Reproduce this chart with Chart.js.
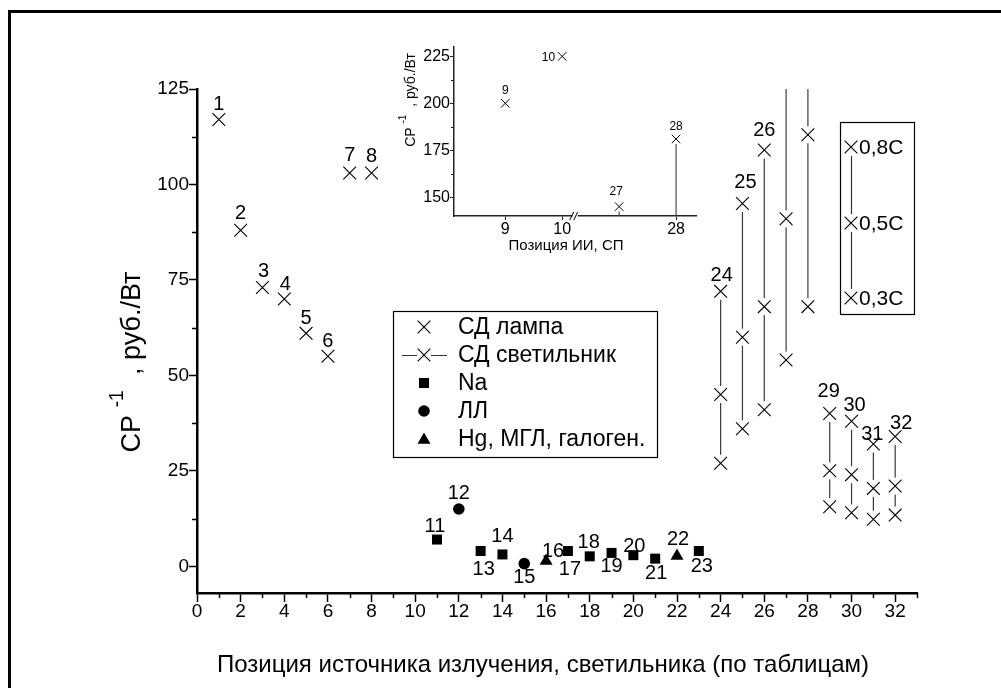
<!DOCTYPE html>
<html><head><meta charset="utf-8">
<script src="https://cdn.jsdelivr.net/npm/chart.js@4.4.0/dist/chart.umd.min.js"></script>
<style>
html,body{margin:0;padding:0;background:#fff;}
#wrap{position:relative;width:1001px;height:688px;overflow:hidden;background:#fff;}
#main{position:absolute;left:0;top:0;}
#inset{position:absolute;left:380px;top:20px;}
</style></head><body>
<div id="wrap"><canvas id="main" width="1001" height="688"></canvas><canvas id="inset" width="330" height="240"></canvas></div>
<script>
const FONT = "'Liberation Sans', Arial, sans-serif";

// ---------------- data ----------------
const lampPositions = [1, 2, 3, 4, 5, 6, 7, 8, 9, 10];
const lampValues    = [117, 88, 73, 70, 61, 55, 103, 103, 200, 225];

const naPositions = [11, 13, 14, 17, 18, 19, 20, 21, 23];
const naValues    = [7, 4, 3.1, 4, 2.6, 3.5, 2.9, 2, 4];

const llPositions = [12, 15];
const llValues    = [15, 0.7];

const hgPositions = [16, 22];
const hgValues    = [1.4, 2.7];

const fixturePositions = [24, 25, 26, 27, 28, 29, 30, 31, 32];
const fixture03C = [27, 36, 41, 54, 68, 15.6, 14, 12.3, 13.4];
const fixture05C = [45, 60, 68, 91, 113, 25, 24, 20.4, 21];
const fixture08C = [72, 95, 109, 145, 181, 40, 38, 32, 34];

const xTicks = [0, 2, 4, 6, 8, 10, 12, 14, 16, 18, 20, 22, 24, 26, 28, 30, 32];
const yTicks = [0, 25, 50, 75, 100, 125];

const insetCategories = [9, 10, 27, 28];
const insetTickLabels = [9, 10, 28];
const insetYTicks = [150, 175, 200, 225];

const legendLabels = ['СД лампа', 'СД светильник', 'Na', 'ЛЛ', 'Hg, МГЛ, галоген.'];
const fractionLabels = ['0,8C', '0,5C', '0,3C'];
const xTitle = 'Позиция источника излучения, светильника (по таблицам)';
const insetXTitle = 'Позиция ИИ, СП';
const yTitleParts = ['CP', '-1', ' , руб./Вт'];

// label placement (text centre offset from the mark, px)
const labelOffset = {
  1:[0,-15], 2:[0,-17], 3:[1,-16], 4:[1,-15], 5:[0,-15], 6:[0,-15], 7:[0,-18], 8:[0,-17],
  11:[-2,-13], 12:[0,-16], 13:[3,18], 14:[0,-18], 15:[0,14], 16:[7,-9], 17:[2,18],
  18:[-1,-14], 19:[0,14], 20:[1,-9], 21:[1,15], 22:[1,-16], 23:[3,15],
  24:[1,-16], 25:[3,-21], 26:[0,-20], 29:[-1,-22], 30:[3,-16], 31:[-1,-10], 32:[6,-13]
};
const insetLabelOffset = {9:[0,-13,'center'], 10:[-7,1,'right'], 27:[-3,-15,'center'], 28:[0,-12,'center']};

// ---------------- helpers ----------------
const pts = (xs, ys) => xs.map((x, i) => ({x, y: ys[i]}));
const fixtureAll = [];
fixturePositions.forEach((p, i) => {
  fixtureAll.push({x:p, y:fixture03C[i]}, {x:p, y:fixture05C[i]}, {x:p, y:fixture08C[i]});
});

function drawShape(ctx, style, x, y, r) {
  ctx.beginPath();
  if (style === 'cross') {
    const d = r * Math.SQRT1_2;
    ctx.moveTo(x - d, y - d); ctx.lineTo(x + d, y + d);
    ctx.moveTo(x - d, y + d); ctx.lineTo(x + d, y - d);
    ctx.stroke();
  } else if (style === 'rect') {
    const s = r * Math.SQRT1_2;
    ctx.fillRect(x - s, y - s, 2 * s, 2 * s);
  } else if (style === 'circle') {
    ctx.arc(x, y, r, 0, Math.PI * 2); ctx.fill();
  } else if (style === 'triangle') {
    ctx.moveTo(x, y - r);
    ctx.lineTo(x + r * Math.sin(Math.PI / 3), y + r / 2);
    ctx.lineTo(x - r * Math.sin(Math.PI / 3), y + r / 2);
    ctx.closePath(); ctx.fill();
  }
}

function drawSupTitle(ctx, cx, cy, size, rotate, gap) {
  const parts = [
    {t: yTitleParts[0], s: size, dy: 0},
    {t: gap, s: size, dy: 0},
    {t: yTitleParts[1], s: size * 0.72, dy: -size * 0.62},
    {t: gap + yTitleParts[2], s: size, dy: 0}
  ];
  ctx.save();
  ctx.translate(cx, cy);
  if (rotate) ctx.rotate(-Math.PI / 2);
  let total = 0;
  parts.forEach(p => { ctx.font = p.s + 'px ' + FONT; p.w = ctx.measureText(p.t).width; total += p.w; });
  let x = -total / 2;
  ctx.fillStyle = '#000';
  ctx.textBaseline = 'alphabetic';
  ctx.textAlign = 'left';
  const base = size * 0.36;
  parts.forEach(p => { ctx.font = p.s + 'px ' + FONT; ctx.fillText(p.t, x, base + p.dy); x += p.w; });
  ctx.restore();
}

// ---------------- main chart ----------------
const mainDecor = {
  id: 'mainDecor',
  beforeDraw(chart) {
    const ctx = chart.ctx;
    ctx.save(); ctx.fillStyle = '#fff'; ctx.fillRect(0, 0, chart.width, chart.height); ctx.restore();
  },
  afterDatasetsDraw(chart) {
    const ctx = chart.ctx, xs = chart.scales.x, ys = chart.scales.y;
    const inArea = (p) => p.y >= ys.min && p.y <= ys.max;
    ctx.save();
    ctx.fillStyle = '#000';
    ctx.font = '20px ' + FONT;
    ctx.textAlign = 'center';
    ctx.textBaseline = 'middle';
    const put = (p, num) => {
      const off = labelOffset[num];
      if (!off || !inArea(p)) return;
      ctx.fillText(String(num), xs.getPixelForValue(p.x) + off[0], ys.getPixelForValue(p.y) + off[1]);
    };
    pts(lampPositions, lampValues).forEach(p => put(p, p.x));
    pts(naPositions, naValues).forEach(p => put(p, p.x));
    pts(llPositions, llValues).forEach(p => put(p, p.x));
    pts(hgPositions, hgValues).forEach(p => put(p, p.x));
    pts(fixturePositions, fixture08C).forEach(p => put(p, p.x));
    ctx.restore();
  },
  afterDraw(chart) {
    const ctx = chart.ctx, xs = chart.scales.x, ys = chart.scales.y, a = chart.chartArea;
    ctx.save();
    // outer frame
    ctx.strokeStyle = '#000'; ctx.lineWidth = 3;
    ctx.strokeRect(9.5, 11.5, 1200, 900);
    // minor ticks
    ctx.lineWidth = 1.5;
    ctx.beginPath();
    for (let v = 1; v <= 33; v += 2) {
      const px = Math.round(xs.getPixelForValue(v)) + 0.5;
      ctx.moveTo(px, a.bottom); ctx.lineTo(px, a.bottom + 5);
    }
    for (let v = 12.5; v < 125; v += 25) {
      const py = Math.round(ys.getPixelForValue(v)) + 0.5;
      ctx.moveTo(a.left, py); ctx.lineTo(a.left - 5, py);
    }
    ctx.stroke();

    // legend
    ctx.lineWidth = 1.2;
    ctx.strokeStyle = '#000';
    ctx.strokeRect(393.5, 311.5, 264, 146);
    const rows = [327, 355, 383, 411, 439];
    const sx = 424, tx = 458;
    ctx.fillStyle = '#000';
    ctx.lineWidth = 1.1;
    drawShape(ctx, 'cross', sx, rows[0], 9);
    ctx.strokeStyle = '#333';
    ctx.beginPath(); ctx.moveTo(402, rows[1] + 0.5); ctx.lineTo(417, rows[1] + 0.5);
    ctx.moveTo(431, rows[1] + 0.5); ctx.lineTo(447, rows[1] + 0.5); ctx.stroke();
    ctx.strokeStyle = '#000';
    drawShape(ctx, 'cross', sx, rows[1], 9);
    drawShape(ctx, 'rect', sx, rows[2], 7.07);
    drawShape(ctx, 'circle', sx, rows[3], 5.8);
    drawShape(ctx, 'triangle', sx, rows[4] + 1, 7.5);
    ctx.font = '23px ' + FONT;
    ctx.textAlign = 'left';
    ctx.textBaseline = 'middle';
    legendLabels.forEach((t, i) => ctx.fillText(t, tx, rows[i] + 1));

    // fraction box
    ctx.lineWidth = 1.2;
    ctx.strokeRect(840.5, 122.5, 74, 192);
    const fy = [147, 223, 298];
    ctx.strokeStyle = '#333';
    ctx.beginPath();
    ctx.moveTo(851.5, 156); ctx.lineTo(851.5, 214);
    ctx.moveTo(851.5, 232); ctx.lineTo(851.5, 289);
    ctx.stroke();
    ctx.strokeStyle = '#000';
    ctx.lineWidth = 1.1;
    fy.forEach(y => drawShape(ctx, 'cross', 851, y, 9));
    ctx.font = '21px ' + FONT;
    fractionLabels.forEach((t, i) => ctx.fillText(t, 859, fy[i] + 1));

    // axis titles
    ctx.font = '24px ' + FONT;
    ctx.textAlign = 'center';
    ctx.textBaseline = 'middle';
    ctx.fillText(xTitle, 543, 665);
    drawSupTitle(ctx, 130, 362, 27, true, ' ');
    ctx.restore();
  }
};

const tickFont = {family: FONT, size: 19};

const mainDatasets = [];
fixturePositions.forEach((p, i) => {
  mainDatasets.push({
    type: 'line',
    data: [{x:p, y:fixture03C[i]}, {x:p, y:fixture05C[i]}, {x:p, y:fixture08C[i]}],
    showLine: true, borderColor: '#3a3a3a', borderWidth: 1.2, pointRadius: 0, fill: false, tension: 0, order: 10
  });
});
mainDatasets.push({
  data: fixtureAll, showLine: false, pointStyle: 'rect', pointRadius: 12,
  pointBackgroundColor: '#fff', pointBorderColor: '#fff', pointBorderWidth: 0, order: 5
});
mainDatasets.push({
  data: fixtureAll, showLine: false, pointStyle: 'crossRot', pointRadius: 9,
  pointBorderColor: '#000', pointBorderWidth: 1.1, order: 1
});
mainDatasets.push({
  data: pts(lampPositions, lampValues), showLine: false, pointStyle: 'crossRot', pointRadius: 9,
  pointBorderColor: '#000', pointBorderWidth: 1.1, order: 1
});
mainDatasets.push({
  data: pts(naPositions, naValues), showLine: false, pointStyle: 'rect', pointRadius: 7.07,
  pointBackgroundColor: '#000', pointBorderColor: '#000', pointBorderWidth: 0, order: 1
});
mainDatasets.push({
  data: pts(llPositions, llValues), showLine: false, pointStyle: 'circle', pointRadius: 5.8,
  pointBackgroundColor: '#000', pointBorderColor: '#000', pointBorderWidth: 0, order: 1
});
mainDatasets.push({
  data: pts(hgPositions, hgValues), showLine: false, pointStyle: 'triangle', pointRadius: 7.5,
  pointBackgroundColor: '#000', pointBorderColor: '#000', pointBorderWidth: 0, order: 1
});

new Chart(document.getElementById('main'), {
  type: 'scatter',
  data: {datasets: mainDatasets},
  options: {
    responsive: false, animation: false, devicePixelRatio: 1,
    layout: {padding: {left: 0, top: 89, right: 84, bottom: 0}},
    plugins: {legend: {display: false}, tooltip: {enabled: false}},
    scales: {
      x: {
        type: 'linear', min: 0, max: 33,
        afterBuildTicks: s => { s.ticks = xTicks.map(v => ({value: v})); },
        afterFit: s => { s.height = 95; },
        ticks: {autoSkip: false, maxRotation: 0, font: tickFont, color: '#000', padding: -2, callback: v => String(v)},
        grid: {drawOnChartArea: false, tickLength: 9, tickWidth: 1.5, tickColor: '#000'},
        border: {color: '#000', width: 2.5}
      },
      y: {
        type: 'linear', min: -7, max: 125,
        afterBuildTicks: s => { s.ticks = yTicks.map(v => ({value: v})); },
        afterFit: s => { s.width = 197; },
        ticks: {autoSkip: false, font: tickFont, color: '#000', padding: 0, callback: v => String(v)},
        grid: {drawOnChartArea: false, tickLength: 8, tickWidth: 1.5, tickColor: '#000'},
        border: {color: '#000', width: 2.5}
      }
    }
  },
  plugins: [mainDecor]
});

// ---------------- inset chart ----------------
const insetPos = c => insetCategories.indexOf(c) + 1;
const insetLamp = [], insetFixLines = [], insetFixTops = [];
insetCategories.forEach(c => {
  const li = lampPositions.indexOf(c);
  if (li >= 0) insetLamp.push({x: insetPos(c), y: lampValues[li], n: c});
  const fi = fixturePositions.indexOf(c);
  if (fi >= 0) {
    insetFixLines.push([{x: insetPos(c), y: fixture03C[fi]}, {x: insetPos(c), y: fixture05C[fi]}, {x: insetPos(c), y: fixture08C[fi]}]);
    insetFixTops.push({x: insetPos(c), y: fixture08C[fi], n: c});
  }
});

const insetDecor = {
  id: 'insetDecor',
  afterDraw(chart) {
    const ctx = chart.ctx, xs = chart.scales.x, ys = chart.scales.y, a = chart.chartArea;
    ctx.save();
    ctx.strokeStyle = '#222'; ctx.lineWidth = 1;
    ctx.beginPath();
    [162.5, 187.5, 212.5].forEach(v => {
      const py = Math.round(ys.getPixelForValue(v)) + 0.5;
      ctx.moveTo(a.left, py); ctx.lineTo(a.left - 3, py);
    });
    ctx.stroke();
    // axis break marks
    const bx = xs.getPixelForValue(2.22), by = a.bottom;
    ctx.strokeStyle = '#fff'; ctx.lineWidth = 3;
    ctx.beginPath(); ctx.moveTo(bx - 2, by); ctx.lineTo(bx + 3, by); ctx.stroke();
    ctx.strokeStyle = '#222'; ctx.lineWidth = 1.1;
    ctx.beginPath();
    ctx.moveTo(bx - 5, by + 4); ctx.lineTo(bx - 1, by - 4);
    ctx.moveTo(bx - 1, by + 4); ctx.lineTo(bx + 3, by - 4);
    ctx.stroke();
    // point labels
    ctx.fillStyle = '#000';
    ctx.font = '12px ' + FONT;
    ctx.textBaseline = 'middle';
    insetLamp.concat(insetFixTops).forEach(p => {
      const o = insetLabelOffset[p.n];
      ctx.textAlign = o[2];
      ctx.fillText(String(p.n), xs.getPixelForValue(p.x) + o[0], ys.getPixelForValue(p.y) + o[1]);
    });
    // titles
    ctx.font = '15px ' + FONT;
    ctx.textAlign = 'center';
    ctx.fillText(insetXTitle, 186, 226);
    drawSupTitle(ctx, 30, 80, 14, true, ' ');
    ctx.restore();
  }
};

const insetDatasets = [];
insetFixLines.forEach(d => insetDatasets.push({
  type: 'line', data: d, showLine: true, borderColor: '#3a3a3a', borderWidth: 1.1, pointRadius: 0, fill: false, order: 10
}));
insetDatasets.push({
  data: insetFixTops, showLine: false, pointStyle: 'rect', pointRadius: 7,
  pointBackgroundColor: '#fff', pointBorderColor: '#fff', pointBorderWidth: 0, order: 5
});
insetDatasets.push({
  data: insetFixTops.concat(insetLamp), showLine: false, pointStyle: 'crossRot', pointRadius: 6,
  pointBorderColor: '#000', pointBorderWidth: 1, order: 1
});

const insetTickFont = {family: FONT, size: 16};
new Chart(document.getElementById('inset'), {
  type: 'scatter',
  data: {datasets: insetDatasets},
  options: {
    responsive: false, animation: false, devicePixelRatio: 1,
    layout: {padding: {left: 0, top: 27, right: 14, bottom: 0}},
    plugins: {legend: {display: false}, tooltip: {enabled: false}},
    scales: {
      x: {
        type: 'linear', min: 0.1, max: 4.35,
        afterBuildTicks: s => { s.ticks = insetTickLabels.map(c => ({value: insetPos(c)})); },
        afterFit: s => { s.height = 44; },
        ticks: {autoSkip: false, maxRotation: 0, font: insetTickFont, color: '#000', padding: 0,
                callback: v => String(insetCategories[Math.round(v) - 1])},
        grid: {drawOnChartArea: false, tickLength: 4, tickWidth: 1, tickColor: '#222'},
        border: {color: '#222', width: 1.5}
      },
      y: {
        type: 'linear', min: 140, max: 230,
        afterBuildTicks: s => { s.ticks = insetYTicks.map(v => ({value: v})); },
        afterFit: s => { s.width = 74; },
        ticks: {autoSkip: false, font: insetTickFont, color: '#000', padding: 0, callback: v => String(v)},
        grid: {drawOnChartArea: false, tickLength: 4, tickWidth: 1, tickColor: '#222'},
        border: {color: '#222', width: 1.5}
      }
    }
  },
  plugins: [insetDecor]
});
</script>
</body></html>
